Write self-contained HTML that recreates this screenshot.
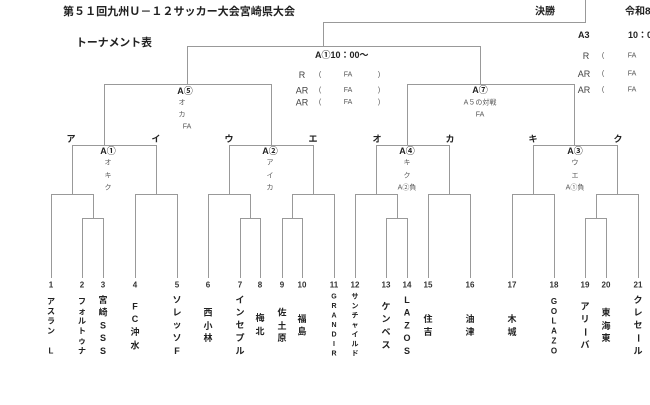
<!DOCTYPE html>
<html><head><meta charset="utf-8"><style>
html,body{margin:0;padding:0;background:#fff;width:650px;height:405px;overflow:hidden}
svg{display:block}
text{font-family:"Liberation Sans","Noto Sans CJK JP",sans-serif;fill:#222;dominant-baseline:central}
.b{font-weight:bold}
.s{font-size:7px;fill:#555}
.m{font-size:9px;fill:#444}
.n{font-size:8px;font-weight:bold;fill:#333}
.t8{font-size:8px;font-weight:bold}
.t9{font-size:9px;font-weight:bold}
.t7{font-size:7px;font-weight:bold}
</style></head><body>
<svg width="650" height="405" viewBox="0 0 650 405" xmlns="http://www.w3.org/2000/svg">
<rect width="650" height="405" fill="#fff"/>
<g stroke="#999" stroke-width="1" fill="none" shape-rendering="crispEdges">
<!-- final -->
<path d="M585.5 0V22.5H323.5V46.5"/>
<path d="M187.5 84V46.5H480.5V84"/>
<path d="M104.5 145V84.5H271.5V145"/>
<path d="M407.5 145V84.5H574.5V145"/>
<!-- A1 group -->
<path d="M72.5 194V145.5H156.5V194"/>
<path d="M51.5 278V194.5H93.5V218"/>
<path d="M82.5 278V218.5H103.5V278"/>
<path d="M135.5 278V194.5H177.5V278"/>
<!-- A2 group -->
<path d="M229.5 194V145.5H313.5V194"/>
<path d="M208.5 278V194.5H250.5V218"/>
<path d="M240.5 278V218.5H260.5V278"/>
<path d="M292.5 218V194.5H334.5V278"/>
<path d="M282.5 278V218.5H302.5V278"/>
<!-- A4 group -->
<path d="M376.5 194V145.5H449.5V194"/>
<path d="M355.5 278V194.5H397.5V218"/>
<path d="M386.5 278V218.5H407.5V278"/>
<path d="M428.5 278V194.5H470.5V278"/>
<!-- A3 group -->
<path d="M533.5 194V145.5H617.5V194"/>
<path d="M512.5 278V194.5H554.5V278"/>
<path d="M596.5 218V194.5H638.5V278"/>
<path d="M585.5 278V218.5H606.5V278"/>
</g>

<!-- headers -->
<text x="63" y="12" class="b" font-size="11" textLength="232" lengthAdjust="spacingAndGlyphs">第５１回九州Ｕ－１２サッカー大会宮崎県大会</text>
<text x="535" y="12" class="b" font-size="10">決勝</text>
<text x="625" y="12" class="b" font-size="10">令和8年</text>
<text x="76" y="43" class="b" font-size="11" textLength="76" lengthAdjust="spacingAndGlyphs">トーナメント表</text>

<!-- semi-final info left -->
<text x="315" y="55" class="t9">A①10：00～</text>
<text x="302" y="75" class="m" text-anchor="middle">R</text>
<text x="320" y="75" class="s" text-anchor="middle">(</text>
<text x="348" y="75" class="s" text-anchor="middle">FA</text>
<text x="379" y="75" class="s" text-anchor="middle">)</text>
<text x="302" y="90.5" class="m" text-anchor="middle">AR</text>
<text x="320" y="90.5" class="s" text-anchor="middle">(</text>
<text x="348" y="90.5" class="s" text-anchor="middle">FA</text>
<text x="379" y="90.5" class="s" text-anchor="middle">)</text>
<text x="302" y="102.5" class="m" text-anchor="middle">AR</text>
<text x="320" y="102.5" class="s" text-anchor="middle">(</text>
<text x="348" y="102.5" class="s" text-anchor="middle">FA</text>
<text x="379" y="102.5" class="s" text-anchor="middle">)</text>

<!-- final info right -->
<text x="578" y="35" class="t9">A3</text>
<text x="628" y="35" class="t9">10：00</text>
<text x="586" y="56" class="m" text-anchor="middle">R</text>
<text x="603" y="56" class="s" text-anchor="middle">(</text>
<text x="632" y="56" class="s" text-anchor="middle">FA</text>
<text x="584" y="74" class="m" text-anchor="middle">AR</text>
<text x="603" y="74" class="s" text-anchor="middle">(</text>
<text x="632" y="74" class="s" text-anchor="middle">FA</text>
<text x="584" y="90" class="m" text-anchor="middle">AR</text>
<text x="603" y="90" class="s" text-anchor="middle">(</text>
<text x="632" y="90" class="s" text-anchor="middle">FA</text>

<!-- A5 -->
<text x="185" y="91" class="t9" text-anchor="middle">A⑤</text>
<text x="182" y="103" class="s" text-anchor="middle">オ</text>
<text x="182" y="115" class="s" text-anchor="middle">カ</text>
<text x="187" y="127" class="s" text-anchor="middle">FA</text>
<!-- A7 -->
<text x="480" y="90" class="t9" text-anchor="middle">A⑦</text>
<text x="480" y="103" class="s" text-anchor="middle">A５の対戦</text>
<text x="480" y="115" class="s" text-anchor="middle">FA</text>

<!-- group letters -->
<g class="t9" text-anchor="middle">
<text x="71" y="139" class="t9" text-anchor="middle">ア</text>
<text x="156" y="139" class="t9" text-anchor="middle">イ</text>
<text x="229" y="139" class="t9" text-anchor="middle">ウ</text>
<text x="313" y="139" class="t9" text-anchor="middle">エ</text>
<text x="377" y="139" class="t9" text-anchor="middle">オ</text>
<text x="450" y="139" class="t9" text-anchor="middle">カ</text>
<text x="533" y="139" class="t9" text-anchor="middle">キ</text>
<text x="618" y="139" class="t9" text-anchor="middle">ク</text>
</g>

<!-- A1 -->
<text x="108" y="151" class="t9" text-anchor="middle">A①</text>
<text x="108" y="163" class="s" text-anchor="middle">オ</text>
<text x="108" y="176" class="s" text-anchor="middle">キ</text>
<text x="108" y="188" class="s" text-anchor="middle">ク</text>
<!-- A2 -->
<text x="270" y="151" class="t9" text-anchor="middle">A②</text>
<text x="270" y="163" class="s" text-anchor="middle">ア</text>
<text x="270" y="176" class="s" text-anchor="middle">イ</text>
<text x="270" y="188" class="s" text-anchor="middle">カ</text>
<!-- A4 -->
<text x="407" y="151" class="t9" text-anchor="middle">A④</text>
<text x="407" y="163" class="s" text-anchor="middle">キ</text>
<text x="407" y="176" class="s" text-anchor="middle">ク</text>
<text x="407" y="188" class="s" text-anchor="middle">A②負</text>
<!-- A3 -->
<text x="575" y="151" class="t9" text-anchor="middle">A③</text>
<text x="575" y="163" class="s" text-anchor="middle">ウ</text>
<text x="575" y="176" class="s" text-anchor="middle">エ</text>
<text x="575" y="188" class="s" text-anchor="middle">A①負</text>

<!-- numbers -->
<g text-anchor="middle">
<text x="51" y="285" class="n" text-anchor="middle">1</text>
<text x="82" y="285" class="n" text-anchor="middle">2</text>
<text x="103" y="285" class="n" text-anchor="middle">3</text>
<text x="135" y="285" class="n" text-anchor="middle">4</text>
<text x="177" y="285" class="n" text-anchor="middle">5</text>
<text x="208" y="285" class="n" text-anchor="middle">6</text>
<text x="240" y="285" class="n" text-anchor="middle">7</text>
<text x="260" y="285" class="n" text-anchor="middle">8</text>
<text x="282" y="285" class="n" text-anchor="middle">9</text>
<text x="302" y="285" class="n" text-anchor="middle">10</text>
<text x="334" y="285" class="n" text-anchor="middle">11</text>
<text x="355" y="285" class="n" text-anchor="middle">12</text>
<text x="386" y="285" class="n" text-anchor="middle">13</text>
<text x="407" y="285" class="n" text-anchor="middle">14</text>
<text x="428" y="285" class="n" text-anchor="middle">15</text>
<text x="470" y="285" class="n" text-anchor="middle">16</text>
<text x="512" y="285" class="n" text-anchor="middle">17</text>
<text x="554" y="285" class="n" text-anchor="middle">18</text>
<text x="585" y="285" class="n" text-anchor="middle">19</text>
<text x="606" y="285" class="n" text-anchor="middle">20</text>
<text x="638" y="285" class="n" text-anchor="middle">21</text>
</g>

<!-- team names (vertical) -->
<g text-anchor="middle">
<!-- 1 -->
<text x="51" y="301.7" class="t8" text-anchor="middle">ア</text>
<text x="51" y="311.7" class="t8" text-anchor="middle">ス</text>
<text x="51" y="321" class="t8" text-anchor="middle">ラ</text>
<text x="51" y="331" class="t8" text-anchor="middle">ン</text>
<text x="51" y="351" class="t8" text-anchor="middle">L</text>
<!-- 2 -->
<text x="82" y="301.7" class="t8" text-anchor="middle">フ</text>
<text x="82" y="311.7" class="t8" text-anchor="middle">ォ</text>
<text x="82" y="321" class="t8" text-anchor="middle">ル</text>
<text x="82" y="331" class="t8" text-anchor="middle">ト</text>
<text x="82" y="341" class="t8" text-anchor="middle">ゥ</text>
<text x="82" y="351" class="t8" text-anchor="middle">ナ</text>
<!-- 3 -->
<text x="103" y="300" class="t9" text-anchor="middle">宮</text>
<text x="103" y="312.5" class="t9" text-anchor="middle">崎</text>
<text x="103" y="325.5" class="t9" text-anchor="middle">S</text>
<text x="103" y="338" class="t9" text-anchor="middle">S</text>
<text x="103" y="351" class="t9" text-anchor="middle">S</text>
<!-- 4 -->
<text x="135" y="306.7" class="t9" text-anchor="middle">F</text>
<text x="135" y="319" class="t9" text-anchor="middle">C</text>
<text x="135" y="332" class="t9" text-anchor="middle">沖</text>
<text x="135" y="345.5" class="t9" text-anchor="middle">水</text>
<!-- 5 -->
<text x="177" y="300" class="t9" text-anchor="middle">ソ</text>
<text x="177" y="312.7" class="t9" text-anchor="middle">レ</text>
<text x="177" y="325" class="t9" text-anchor="middle">ッ</text>
<text x="177" y="338" class="t9" text-anchor="middle">ソ</text>
<text x="177" y="351" class="t9" text-anchor="middle">F</text>
<!-- 6 -->
<text x="208" y="312.7" class="t9" text-anchor="middle">西</text>
<text x="208" y="326" class="t9" text-anchor="middle">小</text>
<text x="208" y="338" class="t9" text-anchor="middle">林</text>
<!-- 7 -->
<text x="240" y="300" class="t9" text-anchor="middle">イ</text>
<text x="240" y="312.7" class="t9" text-anchor="middle">ン</text>
<text x="240" y="325" class="t9" text-anchor="middle">セ</text>
<text x="240" y="338" class="t9" text-anchor="middle">プ</text>
<text x="240" y="351" class="t9" text-anchor="middle">ル</text>
<!-- 8 -->
<text x="260" y="318" class="t9" text-anchor="middle">梅</text>
<text x="260" y="331.7" class="t9" text-anchor="middle">北</text>
<!-- 9 -->
<text x="282" y="312.7" class="t9" text-anchor="middle">佐</text>
<text x="282" y="326" class="t9" text-anchor="middle">土</text>
<text x="282" y="338" class="t9" text-anchor="middle">原</text>
<!-- 10 -->
<text x="302" y="319" class="t9" text-anchor="middle">福</text>
<text x="302" y="331.7" class="t9" text-anchor="middle">島</text>
<!-- 11 -->
<text x="334" y="297" class="t7" text-anchor="middle">G</text>
<text x="334" y="306.5" class="t7" text-anchor="middle">R</text>
<text x="334" y="316" class="t7" text-anchor="middle">A</text>
<text x="334" y="325.5" class="t7" text-anchor="middle">N</text>
<text x="334" y="335" class="t7" text-anchor="middle">D</text>
<text x="334" y="344.5" class="t7" text-anchor="middle">I</text>
<text x="334" y="354" class="t7" text-anchor="middle">R</text>
<!-- 12 -->
<text x="355" y="297" class="t7" text-anchor="middle">サ</text>
<text x="355" y="306.5" class="t7" text-anchor="middle">ン</text>
<text x="355" y="316" class="t7" text-anchor="middle">チ</text>
<text x="355" y="325.5" class="t7" text-anchor="middle">ャ</text>
<text x="355" y="335" class="t7" text-anchor="middle">イ</text>
<text x="355" y="344.5" class="t7" text-anchor="middle">ル</text>
<text x="355" y="354" class="t7" text-anchor="middle">ド</text>
<!-- 13 -->
<text x="386" y="306.7" class="t9" text-anchor="middle">ケ</text>
<text x="386" y="319" class="t9" text-anchor="middle">ン</text>
<text x="386" y="332" class="t9" text-anchor="middle">ベ</text>
<text x="386" y="345" class="t9" text-anchor="middle">ス</text>
<!-- 14 -->
<text x="407" y="300" class="t9" text-anchor="middle">L</text>
<text x="407" y="312.7" class="t9" text-anchor="middle">A</text>
<text x="407" y="325.5" class="t9" text-anchor="middle">Z</text>
<text x="407" y="338" class="t9" text-anchor="middle">O</text>
<text x="407" y="351" class="t9" text-anchor="middle">S</text>
<!-- 15 -->
<text x="428" y="319" class="t9" text-anchor="middle">住</text>
<text x="428" y="332" class="t9" text-anchor="middle">吉</text>
<!-- 16 -->
<text x="470" y="319" class="t9" text-anchor="middle">油</text>
<text x="470" y="332" class="t9" text-anchor="middle">津</text>
<!-- 17 -->
<text x="512" y="319" class="t9" text-anchor="middle">木</text>
<text x="512" y="332" class="t9" text-anchor="middle">城</text>
<!-- 18 -->
<text x="554" y="301.7" class="t8" text-anchor="middle">G</text>
<text x="554" y="311.7" class="t8" text-anchor="middle">O</text>
<text x="554" y="321" class="t8" text-anchor="middle">L</text>
<text x="554" y="331" class="t8" text-anchor="middle">A</text>
<text x="554" y="341" class="t8" text-anchor="middle">Z</text>
<text x="554" y="351" class="t8" text-anchor="middle">O</text>
<!-- 19 -->
<text x="585" y="306.7" class="t9" text-anchor="middle">ア</text>
<text x="585" y="319" class="t9" text-anchor="middle">リ</text>
<text x="585" y="332" class="t9" text-anchor="middle" transform="rotate(90 585 332)">ー</text>
<text x="585" y="345" class="t9" text-anchor="middle">バ</text>
<!-- 20 -->
<text x="606" y="312.7" class="t9" text-anchor="middle">東</text>
<text x="606" y="326" class="t9" text-anchor="middle">海</text>
<text x="606" y="338" class="t9" text-anchor="middle">東</text>
<!-- 21 -->
<text x="638" y="300" class="t9" text-anchor="middle">ク</text>
<text x="638" y="312.7" class="t9" text-anchor="middle">レ</text>
<text x="638" y="325" class="t9" text-anchor="middle">セ</text>
<text x="638" y="338" class="t9" text-anchor="middle" transform="rotate(90 638 338)">ー</text>
<text x="638" y="351" class="t9" text-anchor="middle">ル</text>
</g>
</svg>
</body></html>
